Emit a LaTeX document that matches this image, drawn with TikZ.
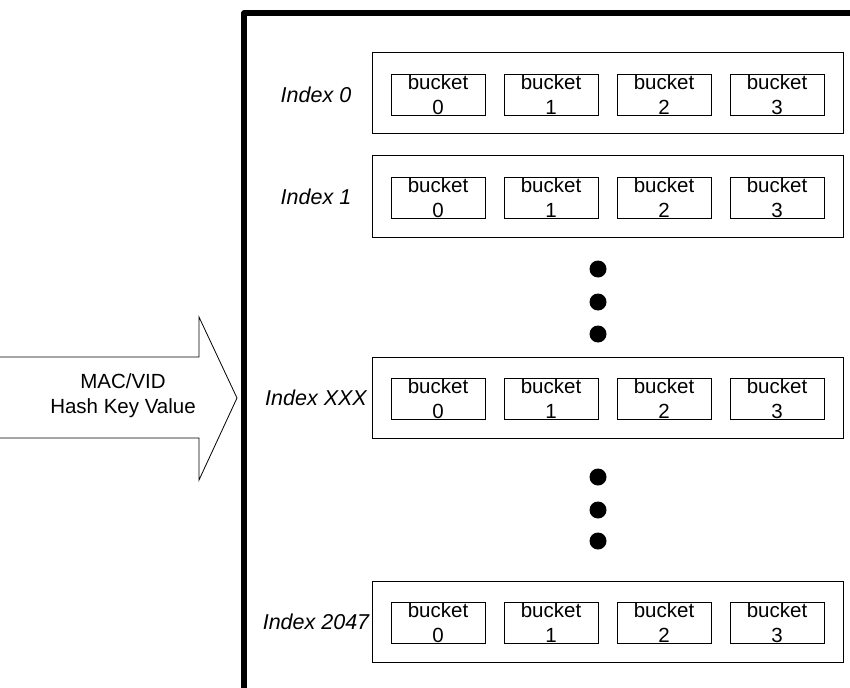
\documentclass[tikz,border=0pt]{standalone}
\usepackage{fontspec}
\setmainfont{Liberation Sans}
\usepackage{tikz}

\begin{document}
\begin{tikzpicture}[x=1pt,y=-1pt,font=\fontsize{20.5}{25}\selectfont]
\tikzstyle{row}=[rectangle,draw,line width=1pt,minimum width=471pt,minimum height=81pt]
\tikzstyle{bucket}=[rectangle,draw,line width=0.9pt,minimum width=94pt,minimum height=41pt,inner sep=0pt,align=center]
\tikzstyle{idx}=[font=\fontsize{21.5}{25}\selectfont\itshape]
\tikzstyle{dot}=[circle,fill=black,minimum size=17pt,inner sep=0pt]
\useasboundingbox (0,0) rectangle (850,687);
% table frame
\draw [line width=5.5pt,line join=round] (244,690) -- (244,13) -- (853,13);
% hash key arrow
\draw [line width=0.8pt] (-2,357) -- (199,357) -- (199,317) -- (237,398) -- (199,480) -- (199,438) -- (-2,438);
\node [align=center] (key) at (123,396) {MAC/VID\\Hash Key Value};
% index 0
\node [row] (row0) at (607.5,93.5) {};
\node [idx] (idx0) at (316,95) {Index 0};
\node [bucket] (b00) at (438,94.5) {bucket\\0};
\node [bucket] (b01) at (551,94.5) {bucket\\1};
\node [bucket] (b02) at (664,94.5) {bucket\\2};
\node [bucket] (b03) at (777,94.5) {bucket\\3};
% index 1
\node [row] (row1) at (607.5,196.5) {};
\node [idx] (idx1) at (316,197) {Index 1};
\node [bucket] (b10) at (438,197.5) {bucket\\0};
\node [bucket] (b11) at (551,197.5) {bucket\\1};
\node [bucket] (b12) at (664,197.5) {bucket\\2};
\node [bucket] (b13) at (777,197.5) {bucket\\3};
% dots
\node [dot] (d1) at (598,269) {};
\node [dot] (d2) at (598,302) {};
\node [dot] (d3) at (598,334) {};
% index XXX
\node [row] (rowx) at (607.5,397.5) {};
\node [idx] (idxx) at (316,398) {Index XXX};
\node [bucket] (bx0) at (438,398.5) {bucket\\0};
\node [bucket] (bx1) at (551,398.5) {bucket\\1};
\node [bucket] (bx2) at (664,398.5) {bucket\\2};
\node [bucket] (bx3) at (777,398.5) {bucket\\3};
% dots
\node [dot] (d4) at (598,477) {};
\node [dot] (d5) at (598,510) {};
\node [dot] (d6) at (598,541) {};
% index 2047
\node [row] (rowl) at (607.5,621.5) {};
\node [idx] (idxl) at (316,622) {Index 2047};
\node [bucket] (bl0) at (438,622.5) {bucket\\0};
\node [bucket] (bl1) at (551,622.5) {bucket\\1};
\node [bucket] (bl2) at (664,622.5) {bucket\\2};
\node [bucket] (bl3) at (777,622.5) {bucket\\3};
\end{tikzpicture}
\end{document}
